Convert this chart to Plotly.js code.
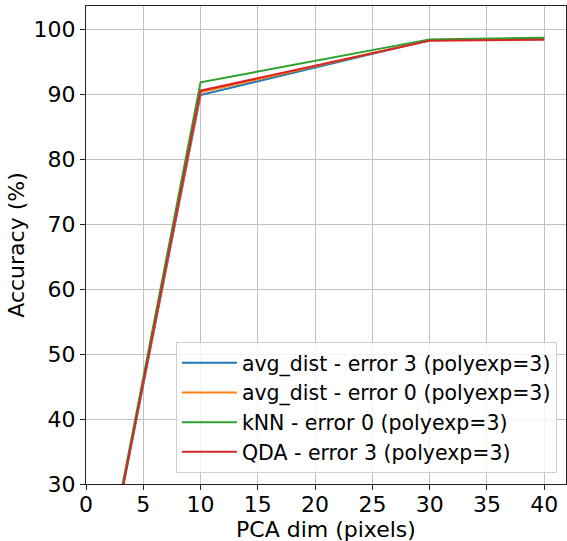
<!DOCTYPE html>
<html>
<head>
<meta charset="utf-8">
<script src="https://cdn.plot.ly/plotly-3.0.1.min.js"></script>
<style>html,body{margin:0;padding:0;background:#fff;}#chart{width:567px;height:541px;}</style>
</head>
<body>
<div id="chart"></div>
<script>
const pcaDims = [1, 10, 30, 40];
const avgDistErr3 = [9.6, 89.9, 98.35, 98.6];
const avgDistErr0 = [9.8, 90.3, 98.35, 98.6];
const knnErr0 = [10.0, 91.85, 98.46, 98.7];
const qdaErr3 = [9.7, 90.56, 98.25, 98.4];
const seriesNames = [
  'avg_dist - error 3 (polyexp=3)',
  'avg_dist - error 0 (polyexp=3)',
  'kNN - error 0 (polyexp=3)',
  'QDA - error 3 (polyexp=3)'
];
const seriesValues = [avgDistErr3, avgDistErr0, knnErr0, qdaErr3];
const colors = ['#1f77b4', '#ff7f0e', '#2ca02c', '#d62728'];
const xTicks = [0, 5, 10, 15, 20, 25, 30, 35, 40];
const yTicks = [30, 40, 50, 60, 70, 80, 90, 100];
const xTitle = 'PCA dim (pixels)';
const yTitle = 'Accuracy (%)';

const traces = seriesValues.map((vals, i) => ({
  x: pcaDims, y: vals, name: seriesNames[i], type: 'scatter', mode: 'lines',
  line: {color: colors[i], width: 2}
}));

const font = {family: 'DejaVu Sans', size: 22, color: '#000'};
const layout = {
  width: 567, height: 541,
  margin: {l: 86, r: 1, t: 6, b: 57},
  paper_bgcolor: '#fff', plot_bgcolor: '#fff',
  font: font,
  showlegend: true,
  legend: {
    x: 0.981, y: 0.023, xanchor: 'right', yanchor: 'bottom',
    bgcolor: 'rgba(255,255,255,0.8)', bordercolor: '#d0d0d0', borderwidth: 1,
    font: {family: 'DejaVu Sans', size: 20.5, color: '#000'},
    itemwidth: 55
  },
  xaxis: {
    range: [0, 41.9], tickvals: xTicks, ticktext: xTicks.map(String),
    showgrid: true, gridcolor: '#c0c0c0', gridwidth: 1, zeroline: false,
    showline: true, linecolor: '#222', linewidth: 1, mirror: true,
    ticks: 'outside', ticklen: 5, tickcolor: '#222',
    tickfont: font, ticklabelstandoff: -4,
    automargin: false
  },
  yaxis: {
    range: [30, 103.6], tickvals: yTicks, ticktext: yTicks.map(String),
    showgrid: true, gridcolor: '#c0c0c0', gridwidth: 1, zeroline: false,
    showline: true, linecolor: '#222', linewidth: 1, mirror: true,
    ticks: 'outside', ticklen: 5, tickcolor: '#222',
    tickfont: font,
    title: {text: yTitle, font: font, standoff: 2},
    automargin: false
  },
  annotations: [{
    text: xTitle, xref: 'paper', yref: 'paper', x: 0.5, y: -0.095,
    xanchor: 'center', yanchor: 'middle', showarrow: false, font: font
  }]
};
Plotly.newPlot('chart', traces, layout, {displayModeBar: false, staticPlot: true});
</script>
</body>
</html>
